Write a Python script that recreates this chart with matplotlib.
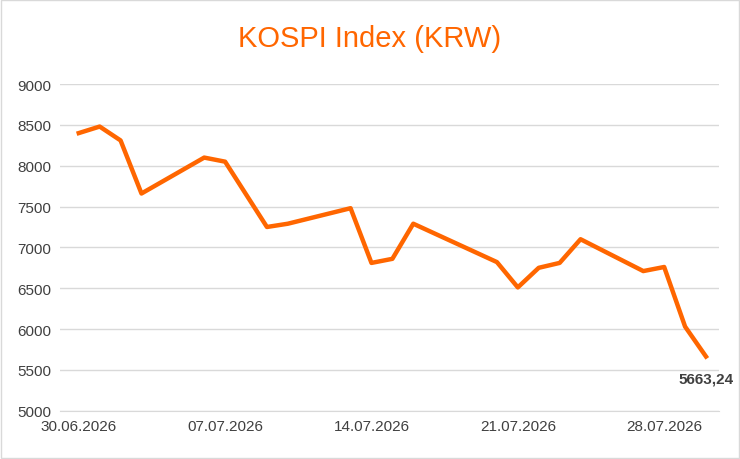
import matplotlib
matplotlib.use("Agg")
import matplotlib.pyplot as plt
import matplotlib.dates as mdates
import pandas as pd

dates = ["2026-06-30","2026-07-01","2026-07-02","2026-07-03","2026-07-06","2026-07-07",
         "2026-07-09","2026-07-10","2026-07-13","2026-07-14","2026-07-15","2026-07-16",
         "2026-07-20","2026-07-21","2026-07-22","2026-07-23","2026-07-24","2026-07-27",
         "2026-07-28","2026-07-29","2026-07-30"]
values = [8400,8480,8310,7660,8100,8050,7250,7290,7480,6810,6860,7290,
          6820,6510,6750,6810,7100,6710,6760,6030,5663.24]
tick_dates = ["2026-06-30","2026-07-07","2026-07-14","2026-07-21","2026-07-28"]
yticks = [5000,5500,6000,6500,7000,7500,8000,8500,9000]

orange = "#FF6600"
plt.rcParams['font.family'] = ['Liberation Sans', 'DejaVu Sans']
fig = plt.figure(figsize=(7.4,4.6), dpi=100)
ax = fig.add_axes([0.081, 0.105, 0.89, 0.71])
x = pd.to_datetime(dates)
ax.plot(x, values, color=orange, lw=3.2, solid_joinstyle='round')
ax.set_ylim(5000, 9000)
ax.set_yticks(yticks)
ax.set_xlim(pd.Timestamp("2026-06-30") - pd.Timedelta(days=0.9), pd.Timestamp("2026-07-30") + pd.Timedelta(days=0.6))
ax.set_xticks(pd.to_datetime(tick_dates))
ax.xaxis.set_major_formatter(mdates.DateFormatter("%d.%m.%Y"))
ax.grid(axis='y', color='#d9d9d9', lw=1)
ax.set_axisbelow(True)
for s in ['top','right','left']:
    ax.spines[s].set_visible(False)
ax.spines['bottom'].set_color('#d9d9d9')
ax.tick_params(length=0, labelsize=11, colors='#404040', pad=6)
ax.annotate(f"{values[-1]:,.2f}".replace(",", "").replace(".", ","), (x[-1], values[-1]),
            xytext=(0, -16), textcoords='offset points', ha='center', va='center',
            fontsize=11, fontweight='bold', color='#404040')
fig.text(0.5, 0.915, "KOSPI Index (KRW)", ha='center', va='center', fontsize=21, color=orange)
fig.patches.append(plt.Rectangle((0.002,0.002),0.996,0.996, transform=fig.transFigure, fill=False, ec='#d9d9d9', lw=1))
fig.savefig("out.png", dpi=100)
